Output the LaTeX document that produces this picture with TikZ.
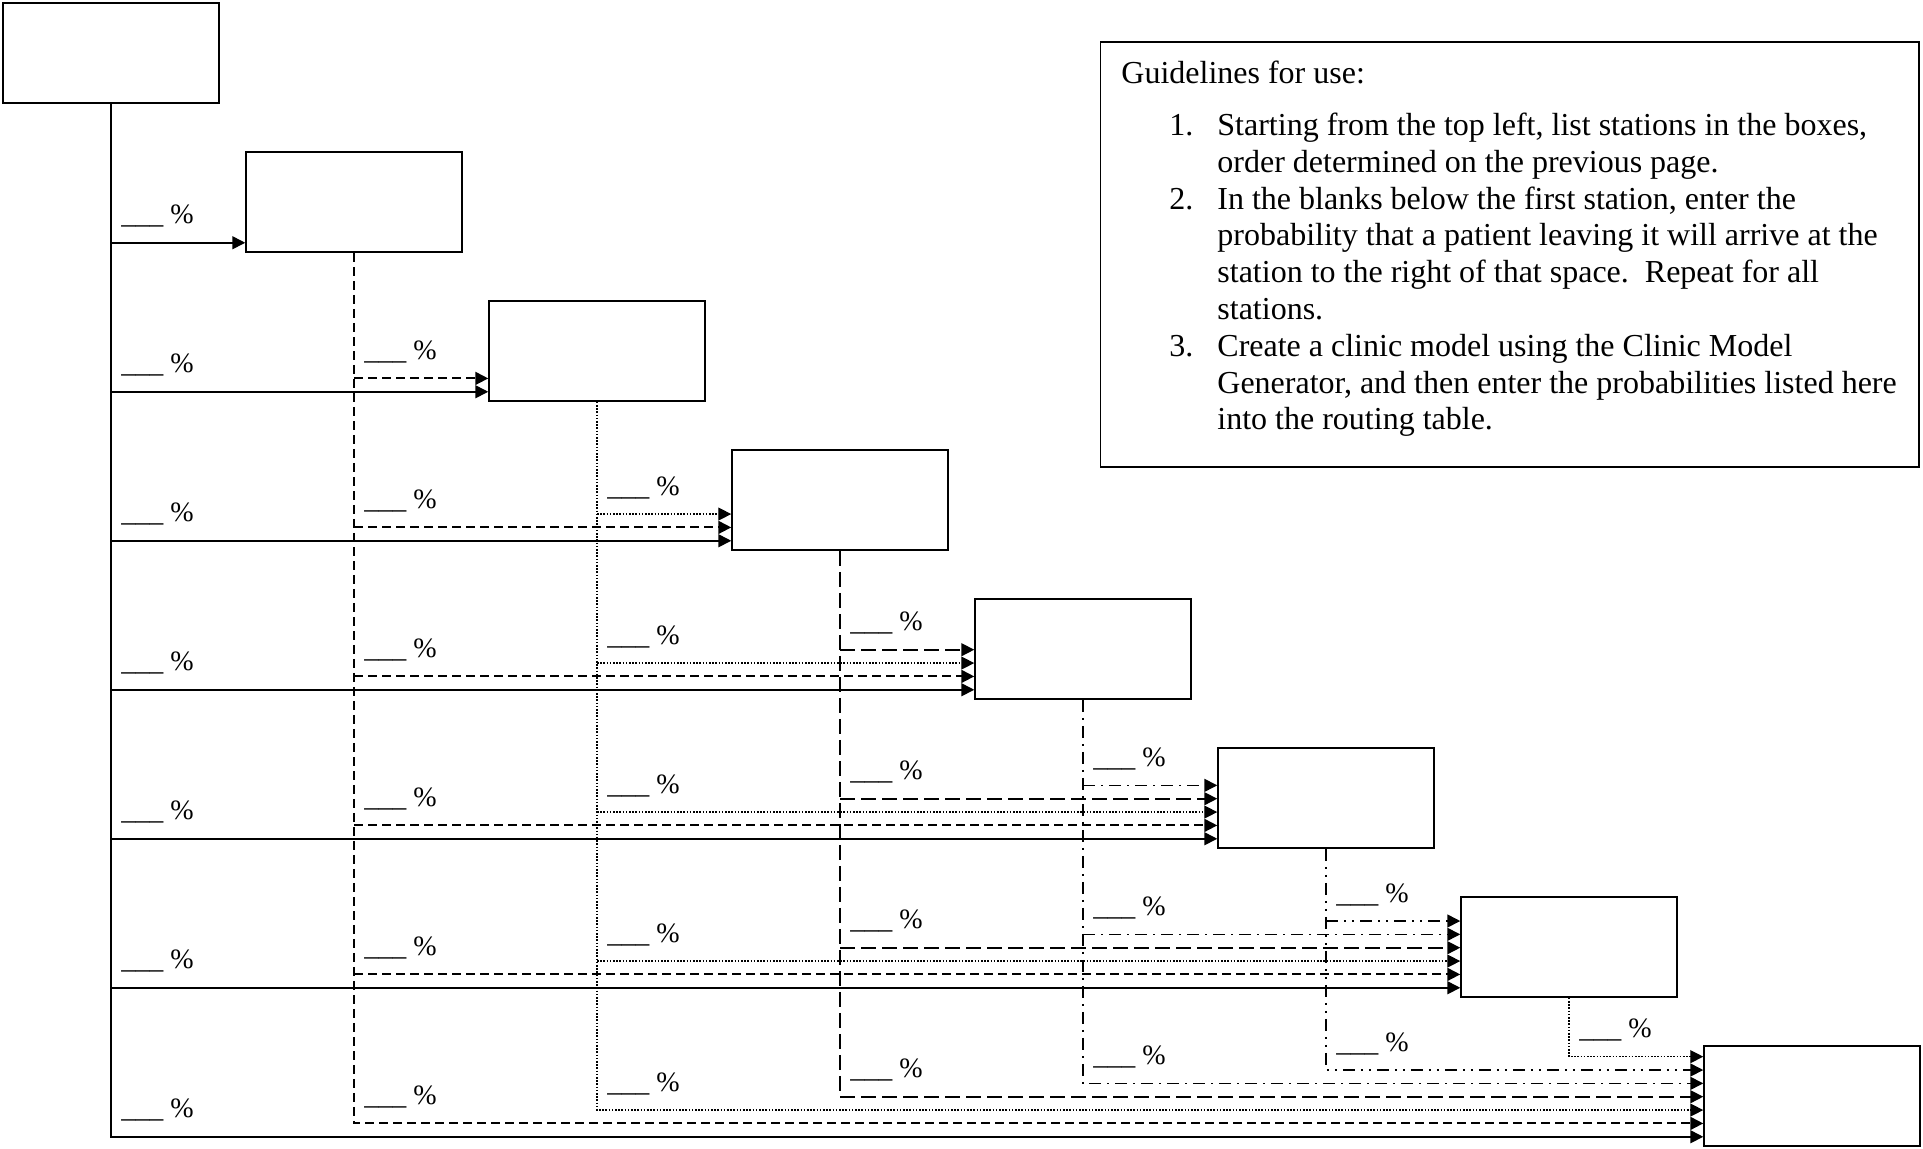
\documentclass[tikz,border=0pt]{standalone}
\usepackage{fontspec}
\setmainfont{Liberation Serif}
\usetikzlibrary{arrows.meta}
\tikzset{
  stbox/.style={draw, line width=0.75pt, minimum width=108pt, minimum height=50pt, inner sep=0pt},
  flow/.style={line width=0.8pt},
  src1/.style={flow},
  src2/.style={line width=0.95pt, dash pattern=on 4.5pt off 2.5pt},
  src3/.style={line width=0.65pt, dash pattern=on 0.8pt off 0.8pt},
  src4/.style={flow, dash pattern=on 7.5pt off 3pt},
  src5/.style={flow, dash pattern=on 6pt off 3pt on 1pt off 3pt},
  src6/.style={flow, dash pattern=on 6pt off 3pt on 1pt off 3pt on 1pt off 3pt},
  src7/.style={line width=0.65pt, dash pattern=on 0.8pt off 0.8pt},
  arrowin/.style={-{Triangle[length=6.5pt,width=6.5pt]}},
  pct/.style={anchor=base west, inner sep=0pt, font=\fontsize{14}{16}\selectfont},
  gtext/.style={anchor=base west, inner sep=0pt, font=\fontsize{16}{18.4}\selectfont},
}
\begin{document}
\begin{tikzpicture}[x=0.5pt,y=-0.5pt]
\useasboundingbox (0,0) rectangle (1923,1148);
% station boxes
\foreach \k in {1,...,8}{
  \node[stbox] (b\k) at ({111+(\k-1)*243},{53+(\k-1)*149}) {};
}
% entry points on the left side of each box
\foreach \j in {2,...,8}{
  \pgfmathtruncatemacro\jm{\j-1}
  \foreach \i in {1,...,\jm}{
    \coordinate (e\i\j) at ([yshift={5+(\i-1)*6.675}]b\j.south west);
  }
}
% routes to the last station, with the vertical drop of each station
\foreach \i in {1,...,7}{
  \draw[src\i, arrowin] (b\i.south) |- (e\i8);
}
% other routes
\foreach \j in {2,...,7}{
  \pgfmathtruncatemacro\jm{\j-1}
  \foreach \i in {1,...,\jm}{
    \draw[src\i, arrowin] (b\i.south |- e\i\j) -- (e\i\j);
  }
}
% percentage blanks
\foreach \j in {2,...,8}{
  \pgfmathtruncatemacro\jm{\j-1}
  \foreach \i in {1,...,\jm}{
    \path (b\i.south |- e\i\j) ++(10,-19) node[pct] (l\i\j) {\_\_\_ \%};
  }
}
% guidelines
\node[draw, line width=0.75pt, minimum width=409.25pt, minimum height=212.5pt, inner sep=0pt] (guide) at (1509.75,254.5) {};
\node[gtext] (gh) at (1121,83) {Guidelines for use:};
\node[gtext] (n1) at (1169,135.5) {1.};
\node[gtext] (t1a) at (1217,135.5) {Starting from the top left, list stations in the boxes,};
\node[gtext] (t1b) at (1217,172.3) {order determined on the previous page.};
\node[gtext] (n2) at (1169,209.1) {2.};
\node[gtext] (t2a) at (1217,209.1) {In the blanks below the first station, enter the};
\node[gtext] (t2b) at (1217,245.9) {probability that a patient leaving it will arrive at the};
\node[gtext] (t2c) at (1217,282.7) {station to the right of that space.\ \ Repeat for all};
\node[gtext] (t2d) at (1217,319.5) {stations.};
\node[gtext] (n3) at (1169,356.3) {3.};
\node[gtext] (t3a) at (1217,356.3) {Create a clinic model using the Clinic Model};
\node[gtext] (t3b) at (1217,393.1) {Generator, and then enter the probabilities listed here};
\node[gtext] (t3c) at (1217,429.9) {into the routing table.};
\end{tikzpicture}
\end{document}
